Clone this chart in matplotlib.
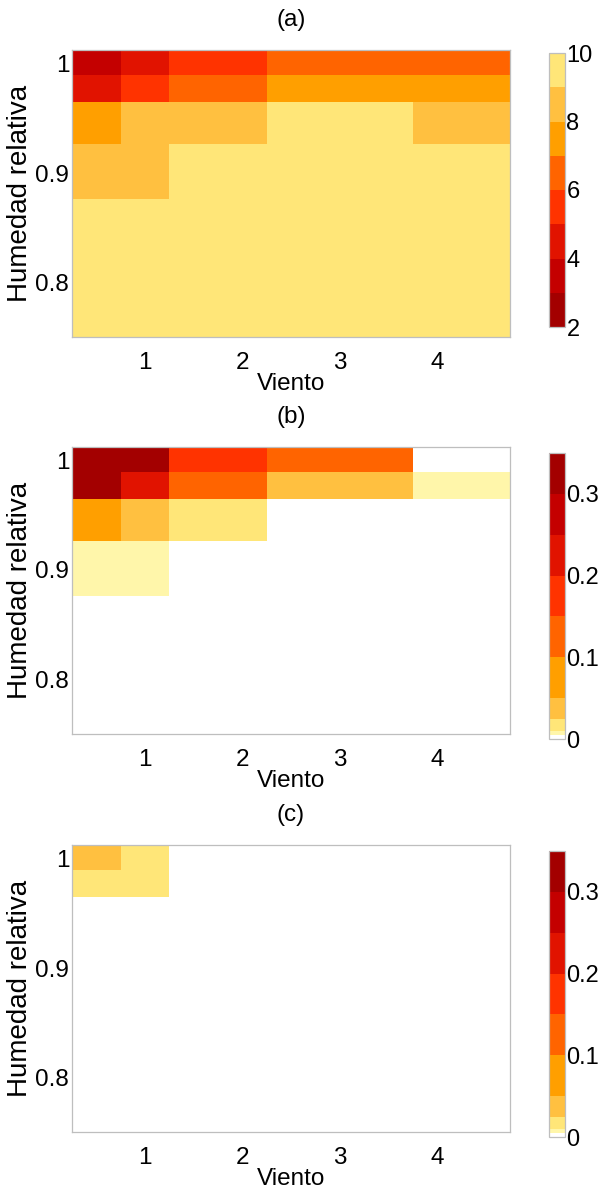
import numpy as np
import matplotlib
matplotlib.use("Agg")
import matplotlib.pyplot as plt
from matplotlib.colors import ListedColormap, BoundaryNorm

plt.rcParams["font.family"] = ["Liberation Sans", "DejaVu Sans"]

# Grid cell edges (wind speed on x, relative humidity on y)
wind_edges = [0.25, 0.75, 1.25, 2.25, 3.75, 4.75]
humidity_edges = [0.75, 0.8765, 0.9268, 0.965, 0.99, 1.0125]

# Cell values, rows listed from the lowest humidity band upwards
panel_a = [
    [9.5, 9.5, 9.6, 9.6, 9.5],
    [8.5, 8.6, 9.3, 9.5, 9.4],
    [7.6, 8.4, 8.5, 9.2, 8.6],
    [4.6, 5.5, 6.4, 7.5, 7.6],
    [3.5, 4.4, 5.6, 6.6, 6.4],
]
panel_b = [
    [0.000, 0.000, 0.000, 0.000, 0.000],
    [0.007, 0.008, 0.002, 0.000, 0.000],
    [0.080, 0.040, 0.018, 0.003, 0.001],
    [0.330, 0.220, 0.130, 0.035, 0.007],
    [0.340, 0.320, 0.170, 0.120, 0.003],
]
panel_c = [
    [0.000, 0.000, 0.000, 0.000, 0.000],
    [0.000, 0.000, 0.000, 0.000, 0.000],
    [0.000, 0.000, 0.000, 0.000, 0.000],
    [0.020, 0.015, 0.000, 0.000, 0.000],
    [0.035, 0.020, 0.000, 0.000, 0.000],
]

x_ticks = [1, 2, 3, 4]
y_ticks = [0.8, 0.9, 1.0]
y_tick_labels = ["0.8", "0.9", "1"]
panel_titles = ["(a)", "(b)", "(c)"]

# Discrete colour scale, from the lowest class to the highest
warm_colors = ["#FFFFFF", "#FFF6AA", "#FFE678", "#FFC040", "#FF9F00",
               "#FF6400", "#FF3300", "#E11300", "#C40000", "#A30000"]
levels_a = [2, 3, 4, 5, 6, 7, 8, 9, 10]
levels_bc = [0, 0.005, 0.01, 0.025, 0.05, 0.10, 0.15, 0.20, 0.25, 0.30, 0.35]

cmap_a = ListedColormap(warm_colors[2:][::-1])
norm_a = BoundaryNorm(levels_a, cmap_a.N)
cmap_bc = ListedColormap(warm_colors)
norm_bc = BoundaryNorm(levels_bc, cmap_bc.N)

W, H = 600, 1189
fig = plt.figure(figsize=(W / 100, H / 100), dpi=100)


def px_axes(left, top, right, bottom):
    return fig.add_axes([left / W, 1 - bottom / H, (right - left) / W, (bottom - top) / H])


FS = 17.5
EDGE = "#BEBEBE"

panels = [
    (panel_a, cmap_a, norm_a, (50, 337), (53, 327), [2, 4, 6, 8, 10], ["2", "4", "6", "8", "10"]),
    (panel_b, cmap_bc, norm_bc, (447, 734), (453, 739), [0, 0.1, 0.2, 0.3], ["0", "0.1", "0.2", "0.3"]),
    (panel_c, cmap_bc, norm_bc, (845, 1132), (851, 1137), [0, 0.1, 0.2, 0.3], ["0", "0.1", "0.2", "0.3"]),
]

for (values, cmap, norm, (top, bot), (ctop, cbot), cticks, clabels), title in zip(panels, panel_titles):
    ax = px_axes(72, top, 510, bot)
    mesh = ax.pcolormesh(wind_edges, humidity_edges, np.array(values), cmap=cmap, norm=norm,
                         shading="flat", antialiased=False, linewidth=0)
    ax.set_xlim(wind_edges[0], wind_edges[-1])
    ax.set_ylim(humidity_edges[0], humidity_edges[-1])
    ax.set_xticks(x_ticks)
    ax.set_xticklabels([str(t) for t in x_ticks])
    ax.set_yticks(y_ticks)
    ax.set_yticklabels(y_tick_labels)
    ax.tick_params(axis="x", length=0, pad=11, labelsize=FS)
    ax.tick_params(axis="y", length=0, pad=2, labelsize=FS)
    for sp in ax.spines.values():
        sp.set_color(EDGE)
        sp.set_linewidth(0.9)
    ax.set_xlabel("Viento", fontsize=FS, labelpad=-1)
    ax.set_ylabel("Humedad relativa", fontsize=20, labelpad=2)
    ax.set_title(title, fontsize=FS, pad=17)

    cax = px_axes(549, ctop, 565, cbot)
    cb = fig.colorbar(mesh, cax=cax, boundaries=norm.boundaries, spacing="proportional")
    cb.set_ticks(cticks)
    cb.set_ticklabels(clabels)
    cb.ax.minorticks_off()
    cb.ax.tick_params(which="both", length=0, pad=1, labelsize=17)
    cb.outline.set_edgecolor(EDGE)
    cb.outline.set_linewidth(0.9)

fig.savefig("out.png", dpi=100)
